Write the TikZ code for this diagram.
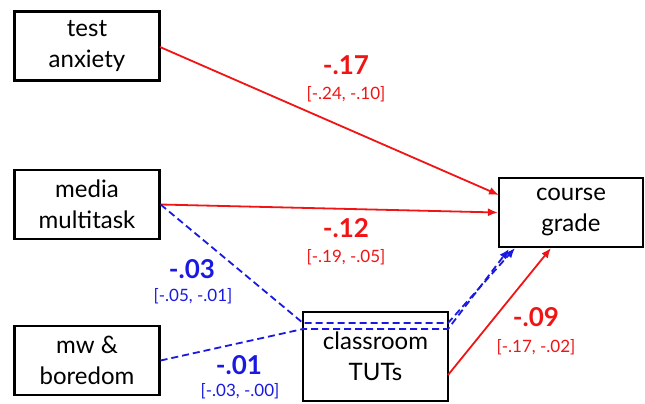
\documentclass[tikz,border=0pt]{standalone}
\usepackage{fontspec}
\setmainfont{Lato}
\usetikzlibrary{arrows.meta}
\definecolor{pathred}{RGB}{240,20,20}
\definecolor{pathblue}{RGB}{25,25,225}

\begin{document}
\begin{tikzpicture}[x=1pt,y=-1pt,
  var/.style={draw=black,line width=2.2pt,minimum width=145pt,minimum height=69pt,
    inner sep=0pt,align=center,font=\fontsize{24}{31}\selectfont},
  sig/.style={pathred,line width=1.8pt,-{Latex[length=10pt,width=8pt]}},
  ns/.style={pathblue,line width=1.8pt,dash pattern=on 7pt off 4pt},
  coef/.style={font=\bfseries\fontsize{26}{28}\selectfont},
  ci/.style={font=\fontsize{17}{19}\selectfont}]
\useasboundingbox (0,0) rectangle (645,404);

% variables
\node[var] (TA) at (87,46) {test\\anxiety};
\node[var] (MM) at (87,204.5) {media\\multitask};
\node[var] (MW) at (87,360.5) {mw \&\\boredom};
\node[var,minimum width=144pt] (CG) at (571,212.5) {course\\grade};
\node[var,minimum height=89pt] (TUT) at (375.5,356.5) {classroom\\TUTs};

\path (160,47) coordinate(TAr);
\path (499,195) coordinate(CGa);
\path (448,375) coordinate(TUTr);
\path (551,248) coordinate(CGc);
\path (303,323) coordinate(U1);
\path (448,323) coordinate(U2);
\path (303,329) coordinate(L1);
\path (448,329) coordinate(L2);
\path (515,248) coordinate(CGu);
\path (509,249) coordinate(CGl);

% direct paths
\draw[sig] (TAr)--(CGa);
\draw[sig] (MM.east)--(CG.west);
\draw[sig] (TUTr)--(CGc);

% indirect paths through TUTs
\draw[ns,-{Latex[length=10pt,width=8pt]}] (MM.east)--(U1)--(U2)--(CGu);
\draw[ns,-{Latex[length=10pt,width=8pt]}] (MW.east)--(L1)--(L2)--(CGl);

% estimates
\node[coef,pathred] (bTA) at (346,65) {-.17};
\node[ci,pathred] (ciTA) at (346,94) {[-.24, -.10]};
\node[coef,pathred] (bMM) at (346,228) {-.12};
\node[ci,pathred] (ciMM) at (346,257) {[-.19, -.05]};
\node[coef,pathblue] (bMMi) at (192,269) {-.03};
\node[ci,pathblue] (ciMMi) at (193,296) {[-.05, -.01]};
\node[coef,pathblue] (bMWi) at (239,365) {-.01};
\node[ci,pathblue] (ciMWi) at (240,391) {[-.03, -.00]};
\node[coef,pathred] (bTUT) at (536,317) {-.09};
\node[ci,pathred] (ciTUT) at (536,347) {[-.17, -.02]};
\end{tikzpicture}
\end{document}
